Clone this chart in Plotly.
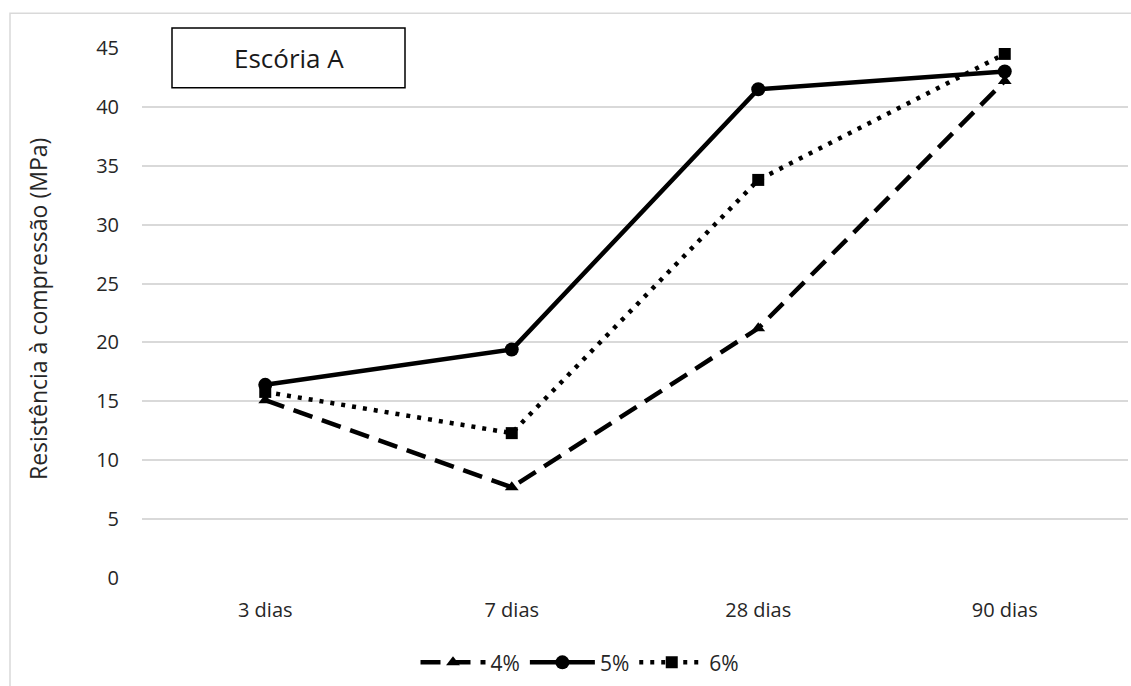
import plotly.graph_objects as go

# Compressive strength by curing age, three activator contents
idades = ["3 dias", "7 dias", "28 dias", "90 dias"]
serie_4 = [15.1, 7.7, 21.2, 42.2]
serie_5 = [16.4, 19.4, 41.5, 43.0]
serie_6 = [15.8, 12.3, 33.8, 44.5]
nomes = ["4%", "5%", "6%"]

W, H = 1131, 686
L, R, T, B = 142, 3, 48, 106
pw, ph = W - L - R, H - T - B


def px_x(p):
    return (p - L) / pw


def px_y(p):
    return (H - B - p) / ph


fig = go.Figure()

fig.add_trace(go.Scatter(
    x=idades, y=serie_4, name=nomes[0], mode="lines+markers",
    line=dict(color="black", width=4.5, dash="20px,10px"),
    marker=dict(symbol="triangle-up", size=12, color="black"),
))
fig.add_trace(go.Scatter(
    x=idades, y=serie_5, name=nomes[1], mode="lines+markers",
    line=dict(color="black", width=4.5),
    marker=dict(symbol="circle", size=14, color="black"),
))
fig.add_trace(go.Scatter(
    x=idades, y=serie_6, name=nomes[2], mode="lines+markers",
    line=dict(color="black", width=4.5, dash="4px,7px"),
    marker=dict(symbol="square", size=12, color="black"),
))

fonte = "Open Sans, Noto Sans, sans-serif"
cor_texto = "#262626"

fig.update_layout(
    width=W, height=H,
    margin=dict(l=L, r=R, t=T, b=B),
    paper_bgcolor="white", plot_bgcolor="white",
    font=dict(family=fonte, size=20, color=cor_texto),
    showlegend=True,
    legend=dict(
        orientation="h", x=px_x(580), y=px_y(665),
        xanchor="center", yanchor="middle",
        font=dict(size=21, color=cor_texto),
        itemwidth=65, bgcolor="rgba(0,0,0,0)",
    ),
    xaxis=dict(
        type="category", showgrid=False, zeroline=False, showline=False,
        ticks="", ticklabelstandoff=18, tickfont=dict(size=20),
        range=[-0.5, 3.5],
    ),
    yaxis=dict(
        range=[0, 45], dtick=5, showgrid=True, gridcolor="#d9d9d9",
        gridwidth=1.5, zeroline=False, showline=False, ticks="",
        ticklabelstandoff=22, tickfont=dict(size=20),
    ),
)

# Chart frame
fig.add_shape(type="rect", xref="paper", yref="paper",
              x0=px_x(10), x1=px_x(1200), y0=px_y(760), y1=px_y(13),
              line=dict(color="#d9d9d9", width=1.5), fillcolor="rgba(0,0,0,0)",
              layer="below")

# Title box
fig.add_shape(type="rect", xref="paper", yref="paper",
              x0=px_x(172), x1=px_x(405), y0=px_y(88), y1=px_y(28),
              line=dict(color="black", width=1.5), fillcolor="white",
              layer="above")
fig.add_annotation(xref="paper", yref="paper", x=px_x(288.5), y=px_y(58),
                   xanchor="center", yanchor="middle",
                   text="Escória A", showarrow=False,
                   font=dict(size=26, color="#1a1a1a", family=fonte))

# Y-axis title
fig.add_annotation(xref="paper", yref="paper", x=px_x(38), y=px_y(310),
                   xanchor="center", yanchor="middle",
                   text="Resistência à compressão (MPa)", textangle=-90,
                   showarrow=False, font=dict(size=23, color=cor_texto, family=fonte))

fig.write_html("out.html")
